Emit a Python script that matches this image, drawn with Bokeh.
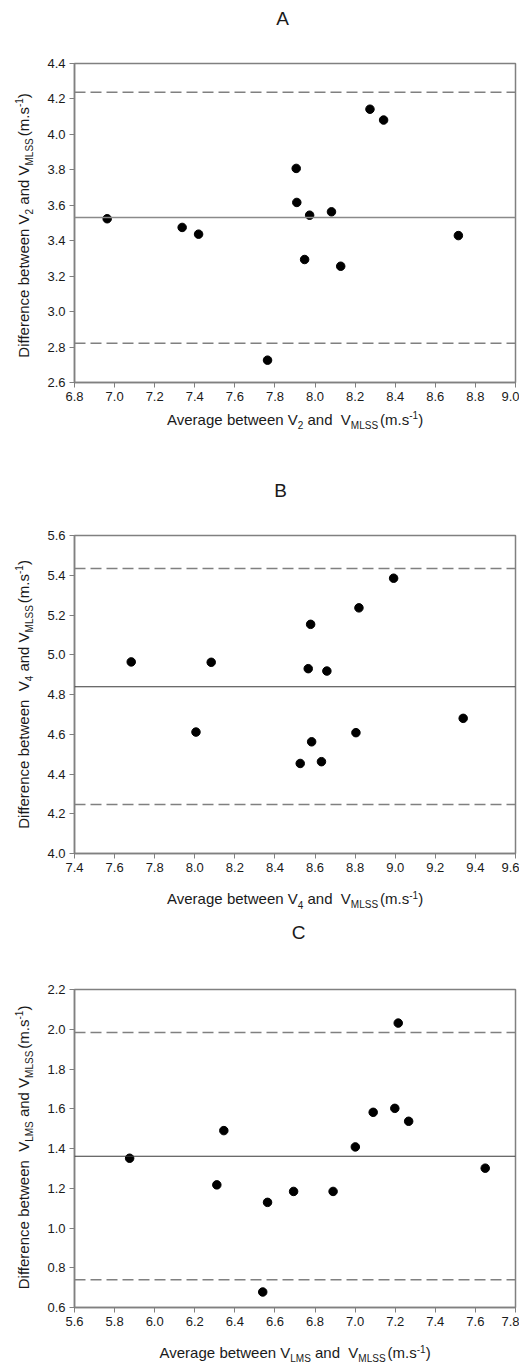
import math
import re
from bokeh.plotting import figure
from bokeh.layouts import column, row
from bokeh.models import Span, Label, FixedTicker, NumeralTickFormatter, Range1d
from bokeh.embed import file_html
from bokeh.resources import INLINE

# ---------------- data ----------------
# Panel A: V2 vs VMLSS
a_avg = [6.963, 7.337, 7.419, 7.763, 7.906, 7.909, 7.948, 7.973, 8.082, 8.128, 8.274, 8.342, 8.715]
a_diff = [3.524, 3.475, 3.437, 2.726, 3.808, 3.616, 3.294, 3.544, 3.563, 3.256, 4.142, 4.081, 3.429]
a_bias, a_upper, a_lower = 3.531, 4.238, 2.822
a_xticks = [6.8, 7.0, 7.2, 7.4, 7.6, 7.8, 8.0, 8.2, 8.4, 8.6, 8.8, 9.0]
a_yticks = [2.6, 2.8, 3.0, 3.2, 3.4, 3.6, 3.8, 4.0, 4.2, 4.4]

# Panel B: V4 vs VMLSS
b_avg = [7.683, 8.006, 8.082, 8.526, 8.566, 8.578, 8.583, 8.632, 8.659, 8.804, 8.819, 8.992, 9.339]
b_diff = [4.964, 4.611, 4.962, 4.453, 4.930, 5.153, 4.562, 4.462, 4.918, 4.608, 5.236, 5.385, 4.680]
b_bias, b_upper, b_lower = 4.839, 5.434, 4.247
b_xticks = [7.4, 7.6, 7.8, 8.0, 8.2, 8.4, 8.6, 8.8, 9.0, 9.2, 9.4, 9.6]
b_yticks = [4.0, 4.2, 4.4, 4.6, 4.8, 5.0, 5.2, 5.4, 5.6]

# Panel C: VLMS vs VMLSS
c_avg = [5.875, 6.310, 6.345, 6.539, 6.563, 6.693, 6.890, 7.001, 7.090, 7.198, 7.215, 7.267, 7.649]
c_diff = [1.351, 1.217, 1.490, 0.678, 1.129, 1.184, 1.184, 1.408, 1.582, 1.602, 2.031, 1.537, 1.301]
c_bias, c_upper, c_lower = 1.361, 1.984, 0.739
c_xticks = [5.6, 5.8, 6.0, 6.2, 6.4, 6.6, 6.8, 7.0, 7.2, 7.4, 7.6, 7.8]
c_yticks = [0.6, 0.8, 1.0, 1.2, 1.4, 1.6, 1.8, 2.0, 2.2]

# label texts: (text, kind) kind: m=main, b=subscript, p=superscript, g=main after small gap
a_title = "A"
a_xlabel = [("Average between V", "m"), ("2", "b"), (" and  V", "m"), ("MLSS", "b"), ("(m.s", "g"), ("-1", "p"), (")", "m")]
a_ylabel = [("Difference between V", "m"), ("2", "b"), (" and V", "m"), ("MLSS", "b"), ("(m.s", "g"), ("-1", "p"), (")", "m")]
b_title = "B"
b_xlabel = [("Average between V", "m"), ("4", "b"), (" and  V", "m"), ("MLSS", "b"), ("(m.s", "g"), ("-1", "p"), (")", "m")]
b_ylabel = [("Difference between  V", "m"), ("4", "b"), (" and V", "m"), ("MLSS", "b"), ("(m.s", "g"), ("-1", "p"), (")", "m")]
c_title = "C"
c_xlabel = [("Average between V", "m"), ("LMS", "b"), (" and  V", "m"), ("MLSS", "b"), ("(m.s", "g"), ("-1", "p"), (")", "m")]
c_ylabel = [("Difference between  V", "m"), ("LMS", "b"), (" and V", "m"), ("MLSS", "b"), ("(m.s", "g"), ("-1", "p"), (")", "m")]

# ---------------- helpers ----------------
FONT = "Liberation Sans"
TXT = "#1a1a1a"
GRAY = "#808080"
MAIN, SMALL = 15, 10
SUB_DROP, SUP_RISE = 4, 6
MID = 0.3465          # em-box middle above the baseline (Liberation Sans)
YL_W = 44             # width of the y-label strip
MAIN_W = 475
TOTAL_W = YL_W + MAIN_W
GAP = 2.0
BT, BB = 9, 26        # top / bottom borders of the plotting figures

W = {' ': 278, 'A': 667, 'B': 667, 'C': 722, 'D': 722, 'L': 556, 'M': 833, 'S': 667, 'V': 667,
     'a': 556, 'b': 556, 'c': 500, 'd': 556, 'e': 556, 'f': 278, 'g': 556, 'i': 222, 'm': 833,
     'n': 556, 'r': 333, 's': 500, 't': 278, 'v': 500, 'w': 722, '(': 333, ')': 333, '.': 278,
     '-': 333}
for dch in "0123456789":
    W[dch] = 556


def tw(s, size):
    return sum(W.get(ch, 556) for ch in s) * size / 1000.0


def piece_size(kind):
    return SMALL if kind in ("b", "p") else MAIN


def rich_label(p, pieces, cx, cy, vertical):
    """Lay out main text / subscripts / superscripts word by word.
    horizontal: cx = centre x, cy = baseline y; vertical: cx = baseline x, cy = centre y."""
    def adv(t, k):
        return tw(t, piece_size(k)) + (GAP if k == "g" else 0)
    total = sum(adv(t, k) for t, k in pieces)
    pos = (cy if vertical else cx) - total / 2.0
    for t, k in pieces:
        size = piece_size(k)
        if k == "g":
            pos += GAP
        off = -SUB_DROP if k == "b" else (SUP_RISE if k == "p" else 0)
        for tok in re.split(r"( +)", t):
            if tok == "":
                continue
            w = tw(tok, size)
            if tok.strip(" "):
                centre = pos + w / 2.0
                if vertical:
                    lab = Label(x=cx - off - MID * size, y=centre, x_units="screen", y_units="screen",
                                text=tok, angle=math.pi / 2, text_align="center", text_baseline="middle",
                                text_font=FONT, text_font_size=f"{size}px", text_color=TXT)
                else:
                    lab = Label(x=centre, y=cy + off + MID * size, x_units="screen", y_units="screen",
                                text=tok, text_align="center", text_baseline="middle",
                                text_font=FONT, text_font_size=f"{size}px", text_color=TXT)
                p.add_layout(lab)
            pos += w


def text_fig(w, h):
    f = figure(width=w, height=h, min_border=0, x_axis_type=None, y_axis_type=None,
               x_range=Range1d(0, w), y_range=Range1d(0, h), toolbar_location=None,
               output_backend="svg", title=None)
    f.outline_line_color = None
    f.grid.visible = False
    f.background_fill_color = "white"
    f.border_fill_color = "white"
    return f


def add_title(f, text, x, y):
    f.add_layout(Label(x=x, y=y, x_units="screen", y_units="screen", text=text,
                       text_align="center", text_baseline="middle",
                       text_font=FONT, text_font_size="19px", text_color=TXT))


def main_fig(avg, diff, bias, upper, lower, xticks, yticks, h, bias_color, bias_width):
    p = figure(width=MAIN_W, height=h, min_border_left=30, min_border_right=4,
               min_border_top=BT, min_border_bottom=BB,
               x_range=Range1d(xticks[0], xticks[-1]), y_range=Range1d(yticks[0], yticks[-1]),
               toolbar_location=None, output_backend="svg", title=None)
    p.grid.visible = False
    p.outline_line_color = GRAY
    p.outline_line_width = 1.5
    p.background_fill_color = "white"
    p.border_fill_color = "white"
    for ax, tk in ((p.xaxis[0], xticks), (p.yaxis[0], yticks)):
        ax.ticker = FixedTicker(ticks=tk)
        ax.formatter = NumeralTickFormatter(format="0.0")
        ax.axis_line_color = GRAY
        ax.axis_line_width = 1.5
        ax.major_tick_line_color = GRAY
        ax.major_tick_line_width = 1
        ax.minor_tick_line_color = None
        ax.major_tick_out = 5
        ax.major_tick_in = 0
        ax.major_label_text_font = FONT
        ax.major_label_text_font_size = "13px"
        ax.major_label_text_color = TXT
        ax.major_label_standoff = 4
    for loc in (upper, lower):
        p.add_layout(Span(location=loc, dimension="width", line_color=GRAY,
                          line_width=1.5, line_dash="11 5"))
    p.add_layout(Span(location=bias, dimension="width", line_color=bias_color, line_width=bias_width))
    p.scatter(avg, diff, size=8.5, color="black")
    return p


XL_CX = 294.5  # centre of the plotting frame (page x)
YL_X = 28      # baseline of the rotated y labels (page x)

# --- top strip: title A  (page y 0-54)
top = text_fig(TOTAL_W, 54)
add_title(top, a_title, 282, 54 - 18)

# --- panel A row (page y 54-408, frame 63-382)
RA_H = 354
ya = text_fig(YL_W, RA_H)          # its frame is aligned with the plot frame in the row
rich_label(ya, a_ylabel, YL_X, 382 - 225, True)
ma = main_fig(a_avg, a_diff, a_bias, a_upper, a_lower, a_xticks, a_yticks, RA_H, "#8a8a8a", 1.5)

# --- strip between A and B (page y 408-526): x label A + title B
m1 = text_fig(TOTAL_W, 118)
rich_label(m1, a_xlabel, XL_CX, 526 - 424, False)
add_title(m1, b_title, 280, 526 - 490)

# --- panel B row (page y 526-879, frame 535-853)
RB_H = 353
yb = text_fig(YL_W, RB_H)
rich_label(yb, b_ylabel, YL_X, 853 - 694, True)
mb = main_fig(b_avg, b_diff, b_bias, b_upper, b_lower, b_xticks, b_yticks, RB_H, "#3a3a3a", 1.2)

# --- strip between B and C (page y 879-980): x label B + title C
m2 = text_fig(TOTAL_W, 101)
rich_label(m2, b_xlabel, XL_CX, 980 - 903.5, False)
add_title(m2, c_title, 298, 980 - 931.5)

# --- panel C row (page y 980-1333, frame 989-1307)
RC_H = 353
yc = text_fig(YL_W, RC_H)
rich_label(yc, c_ylabel, YL_X, 1307 - 1147, True)
mc = main_fig(c_avg, c_diff, c_bias, c_upper, c_lower, c_xticks, c_yticks, RC_H, "#3a3a3a", 1.2)

# --- bottom strip (page y 1333-1366): x label C
bot = text_fig(TOTAL_W, 33)
rich_label(bot, c_xlabel, XL_CX, 1366 - 1357.5, False)

layout = column(top, row(ya, ma, spacing=0), m1, row(yb, mb, spacing=0), m2,
                row(yc, mc, spacing=0), bot, spacing=0)
open("out.html", "w").write(file_html(layout, INLINE))
